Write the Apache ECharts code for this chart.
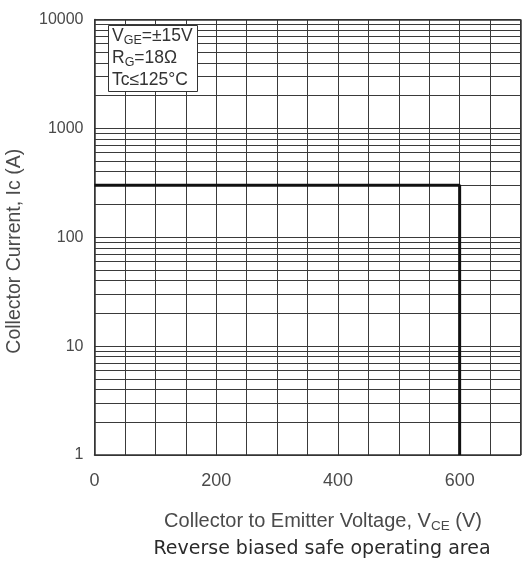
<!DOCTYPE html>
<html>
<head>
<meta charset="utf-8">
<script src="https://cdn.jsdelivr.net/npm/echarts@6/dist/echarts.min.js"></script>
<style>
  html, body { margin: 0; padding: 0; background: #fff; }
  #chart { width: 525px; height: 561px; }
</style>
</head>
<body>
<div id="chart"></div>
<script>
// RBSOA boundary: collector-emitter voltage (V) vs. collector current (A)
const voltage = [0, 600, 600];
const current = [300, 300, 1];

// Labelled ticks
const xTickLabels = [0, 200, 400, 600];
const yTickLabels = [1, 10, 100, 1000, 10000];

// Intermediate log gridlines (2..9 within each decade)
const minorCurrents = [
  2, 3, 4, 5, 6, 7, 8, 9,
  20, 30, 40, 50, 60, 70, 80, 90,
  200, 300, 400, 500, 600, 700, 800, 900,
  2000, 3000, 4000, 5000, 6000, 7000, 8000, 9000
];

const gridColor = '#3a3a3a';
const font = 'Liberation Sans, Arial, sans-serif';
const labelColor = '#4a4a4a';

const chart = echarts.init(document.getElementById('chart'), null, { renderer: 'canvas' });

chart.setOption({
  backgroundColor: '#fff',
  animation: false,
  title: [
    {
      text: '{v|V}{s|GE}{v|=±15V}\n{v|R}{s|G}{v|=18Ω}\n{v|Tc≤125°C}',
      left: 108,
      top: 23,
      padding: [2, 5, 3, 4],
      backgroundColor: '#fff',
      borderColor: '#333',
      borderWidth: 1,
      textStyle: {
        rich: {
          v: { fontFamily: font, fontSize: 17.5, fontWeight: 'normal', color: '#333', lineHeight: 22 },
          s: { fontFamily: font, fontSize: 12.5, fontWeight: 'normal', color: '#333', lineHeight: 18, verticalAlign: 'bottom' }
        }
      }
    },
    {
      text: '{v|Collector to Emitter Voltage, V}{s|CE}{v| (V)}',
      left: 318,
      textAlign: 'center',
      top: 505,
      textStyle: {
        rich: {
          v: { fontFamily: font, fontSize: 20, fontWeight: 'normal', color: labelColor, lineHeight: 23 },
          s: { fontFamily: font, fontSize: 13.5, fontWeight: 'normal', color: labelColor, lineHeight: 19, verticalAlign: 'bottom' }
        }
      }
    },
    {
      text: 'Reverse biased safe operating area',
      left: 317,
      textAlign: 'center',
      top: 535,
      textStyle: { fontFamily: 'DejaVu Sans, sans-serif', fontSize: 19, fontWeight: 'normal', color: '#2a2a2a' }
    }
  ],
  grid: { left: 94.5, right: 4.5, top: 19.5, bottom: 106, outerBoundsMode: 'none' },
  xAxis: {
    type: 'value',
    min: 0,
    max: 700,
    interval: 50,
    axisLine: { show: true, onZero: false, lineStyle: { color: '#333', width: 1.5 } },
    axisTick: { show: false },
    axisLabel: {
      margin: 17,
      fontFamily: font,
      fontSize: 18,
      color: labelColor,
      formatter: v => (xTickLabels.includes(v) ? String(v) : '')
    },
    splitLine: { show: true, lineStyle: { color: gridColor, width: 1 } }
  },
  yAxis: {
    type: 'log',
    logBase: 10,
    min: 1,
    max: 10000,
    name: 'Collector Current, Ic (A)',
    nameLocation: 'middle',
    nameGap: 70,
    nameTextStyle: { fontFamily: font, fontSize: 19.5, color: labelColor, padding: [0, 28, 0, 0] },
    axisLine: { show: true, lineStyle: { color: '#333', width: 1.5 } },
    axisTick: { show: false },
    axisLabel: {
      margin: 11,
      fontFamily: font,
      fontSize: 16,
      color: labelColor,
      formatter: v => (yTickLabels.includes(Math.round(v)) ? String(Math.round(v)) : '')
    },
    splitLine: { show: true, lineStyle: { color: gridColor, width: 1.2 } }
  },
  series: [
    {
      name: 'grid',
      type: 'line',
      data: [],
      silent: true,
      markLine: {
        silent: true,
        symbol: 'none',
        label: { show: false },
        lineStyle: { color: gridColor, width: 1, type: 'solid' },
        data: minorCurrents.map(v => ({ yAxis: v }))
      }
    },
    {
      name: 'RBSOA',
      type: 'line',
      data: voltage.map((v, i) => [v, current[i]]),
      symbol: 'none',
      lineStyle: { color: '#111', width: 3 },
      z: 5
    },
    {
      name: 'frame',
      type: 'line',
      data: [],
      markLine: {
        silent: true,
        symbol: 'none',
        label: { show: false },
        lineStyle: { color: '#333', width: 1.5, type: 'solid' },
        data: [{ xAxis: 700 }, { yAxis: 10000 }]
      }
    }
  ]
});
</script>
</body>
</html>
